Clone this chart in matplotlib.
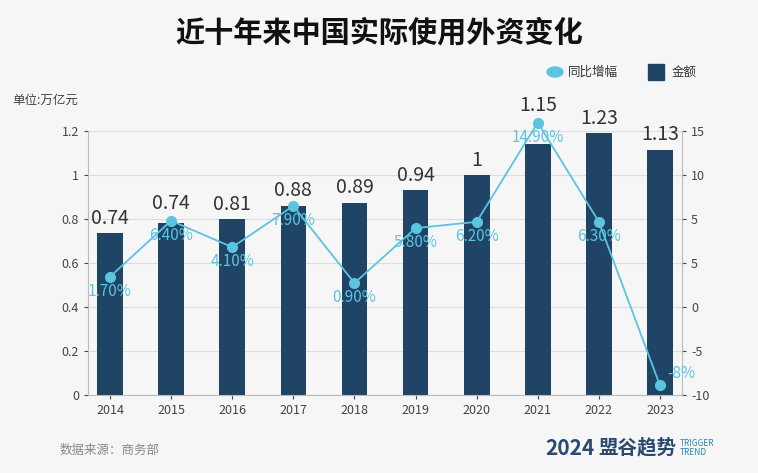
import matplotlib.pyplot as plt
import numpy as np
from matplotlib.patches import Circle, Rectangle
plt.rcParams['font.family'] = ['Noto Sans CJK SC', 'DejaVu Sans']

years = ['2014','2015','2016','2017','2018','2019','2020','2021','2022','2023']
amount = [0.735, 0.78, 0.80, 0.86, 0.875, 0.93, 1.0, 1.14, 1.19, 1.115]
amount_labels = ['0.74','0.74','0.81','0.88','0.89','0.94','1','1.15','1.23','1.13']
growth = [1.7, 6.4, 4.1, 7.9, 0.9, 5.8, 6.2, 14.9, 6.3, -8.0]
growth_plot = [1.2, 6.5, 4.0, 7.9, 0.6, 5.8, 6.4, 15.8, 6.4, -9.1]
growth_labels = ['1.70%','6.40%','4.10%','7.90%','0.90%','5.80%','6.20%','14.90%','6.30%','-8%']
left_ticks = [0, 0.2, 0.4, 0.6, 0.8, 1.0, 1.2]
left_tick_labels = ['0','0.2','0.4','0.6','0.8','1','1.2']
right_ticks = [-10, -5.833, -1.667, 2.5, 6.667, 10.833, 15]
right_tick_labels = ['-10','-5','0','5','5','10','15']

bar_c = '#1f4466'
line_c = '#5bc4e0'
fig = plt.figure(figsize=(7.58, 4.73), dpi=100, facecolor='#f6f6f6')
ax = fig.add_axes([88/758, 1-395/473, (682-88)/758, 264/473])
ax.set_facecolor('#f6f6f6')
x = np.arange(len(years))
ax.bar(x, amount, width=0.42, color=bar_c, zorder=2)
for xi, v, g, l in zip(x, amount, growth_plot, amount_labels):
    gp = (g + 10) / 25 * 1.2
    y = v + 0.02
    if gp > v and gp - v < 0.15:
        y = gp + 0.03
    ax.text(xi, y, l, ha='center', va='bottom', fontsize=14, color='#333333')
ax.set_ylim(0, 1.2)
ax.set_xlim(-0.36, 9.36)
ax.set_yticks(left_ticks, left_tick_labels)
ax.set_xticks(x, years)
ax.grid(axis='y', color='#dddddd', lw=0.8, zorder=0)
for s in ['top','right']:
    ax.spines[s].set_visible(False)
ax.spines['left'].set_color('#bbbbbb')
ax.spines['bottom'].set_color('#bbbbbb')
ax.tick_params(colors='#444444', labelsize=9, length=3)

ax2 = ax.twinx()
ax2.plot(x, growth_plot, color=line_c, lw=1.3, marker='o', ms=7, zorder=3, clip_on=False)
for i, (xi, v, l) in enumerate(zip(x, growth_plot, growth_labels)):
    if i == len(x) - 1:
        ax2.text(xi + 0.12, v + 0.3, l, ha='left', va='bottom', fontsize=11, color=line_c)
    else:
        ax2.text(xi, v - 0.6, l, ha='center', va='top', fontsize=11, color=line_c)
ax2.set_ylim(-10, 15)
ax2.set_yticks(right_ticks, right_tick_labels)
for s in ['top','left','bottom']:
    ax2.spines[s].set_visible(False)
ax2.spines['right'].set_color('#bbbbbb')
ax2.tick_params(colors='#444444', labelsize=9, length=3)

fig.text(0.5, 1-32/473, '近十年来中国实际使用外资变化', ha='center', va='center', fontsize=21, weight='bold', color='#111111')
fig.text(12/758, 1-100/473, '单位:万亿元', fontsize=9, color='#444444', va='center')
fig.patches.append(Circle((555/758, 1-72/473), 8/758, color=line_c, transform=fig.transFigure))
fig.text(568/758, 1-72/473, '同比增幅', fontsize=9, va='center', color='#333333')
fig.patches.append(Rectangle((648/758, 1-80/473), 16/758, 16/473, color=bar_c, transform=fig.transFigure))
fig.text(672/758, 1-72/473, '金额', fontsize=9, va='center', color='#333333')
fig.text(60/758, 1-450/473, '数据来源：商务部', fontsize=9, color='#888888', va='center')
fig.text(595/758, 1-448/473, '2024', fontsize=15, weight='bold', color='#2a4a70', va='center', ha='right')
fig.text(598/758, 1-448/473, '盟谷趋势', fontsize=14, weight='bold', color='#2a4a70', va='center')
fig.text(680/758, 1-448/473, 'TRIGGER\nTREND', fontsize=6, color='#2a8ab0', va='center', linespacing=1.0)
fig.savefig('out.png', dpi=100, facecolor=fig.get_facecolor())
